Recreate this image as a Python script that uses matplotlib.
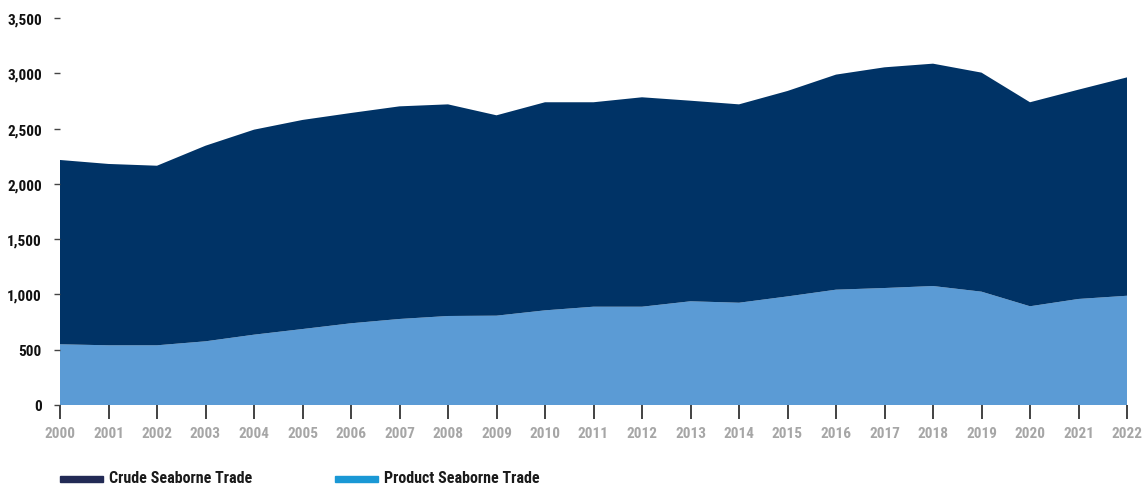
import matplotlib
matplotlib.use("Agg")
import matplotlib.pyplot as plt
from matplotlib.patches import Rectangle
from matplotlib import font_manager
import numpy as np

# prefer a condensed face if one is installed
cands = ['Liberation Sans Narrow', 'DejaVu Sans Condensed', 'Roboto Condensed', 'Open Sans Condensed']
avail = {f.name for f in font_manager.fontManager.ttflist}
fam = [c for c in cands if c in avail] + ['DejaVu Sans']
plt.rcParams['font.family'] = fam
condensed = fam[0] != 'DejaVu Sans'

years = list(range(2000, 2023))
product = [549, 540, 540, 576, 636, 687, 739, 778, 805, 808, 856, 889, 889,
           938, 925, 982, 1043, 1058, 1076, 1025, 893, 959, 988]
total = [2216, 2180, 2164, 2345, 2490, 2578, 2641, 2701, 2719, 2620, 2738, 2738,
         2783, 2752, 2719, 2840, 2988, 3054, 3087, 3006, 2738, 2852, 2963]
crude = [t - p for t, p in zip(total, product)]
yticks = [0, 500, 1000, 1500, 2000, 2500, 3000, 3500]
series_names = ["Crude Seaborne Trade", "Product Seaborne Trade"]

fill_crude = "#003366"
fill_product = "#5b9bd5"
leg_crude = "#222a55"
leg_product = "#1a98d5"

fs_tick = 11 if condensed else 8.5
fs_leg = 11.5 if condensed else 8.5

fig = plt.figure(figsize=(11.46, 4.89), dpi=100)
ax = fig.add_axes([60/1146, 83/489, 1067/1146, 387/489])

ax.stackplot(years, product, crude, colors=[fill_product, fill_crude], linewidth=0)

ax.set_xlim(2000, 2022)
ax.set_ylim(0, 3500)
ax.set_xticks(years)
ax.set_xticklabels([str(y) for y in years], fontsize=fs_tick, fontweight='bold', color='#a6a6a6')
ax.set_yticks(yticks)
ax.set_yticklabels([f"{v:,}" for v in yticks], fontsize=fs_tick, fontweight='bold', color='#111111')
ax.tick_params(axis='x', length=10, width=1.2, color='#222222', direction='out', pad=5)
ax.tick_params(axis='y', length=4, width=1.0, color='#444444', direction='out', pad=9)
for s in ax.spines.values():
    s.set_visible(False)

# legend
handles_cols = [leg_crude, leg_product]
xs = [60, 335]
for name, col, x0 in zip(series_names, handles_cols, xs):
    fig.patches.append(Rectangle((x0/1146, (489-483)/489), 43/1146, 6/489,
                                 transform=fig.transFigure, color=col, zorder=5))
    fig.text((x0 + 49)/1146, (489-479)/489, name, fontsize=fs_leg, fontweight='bold',
             color='#1a1a1a', va='center', ha='left')

fig.savefig("out.png", dpi=100)
